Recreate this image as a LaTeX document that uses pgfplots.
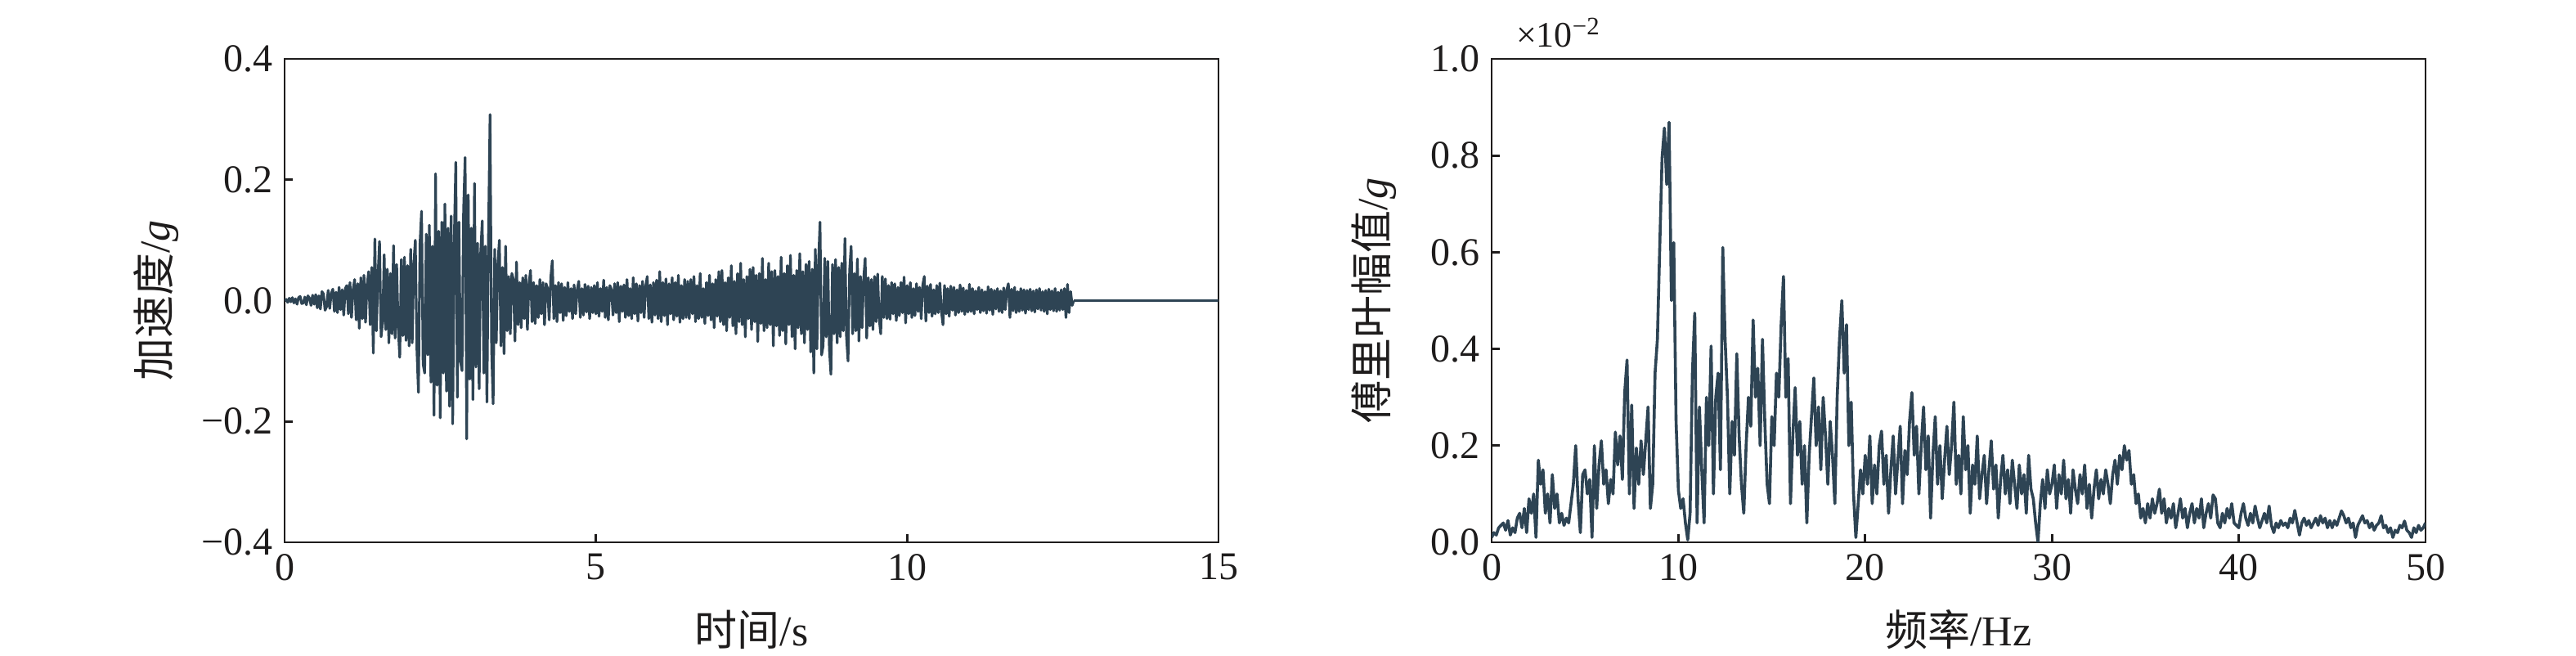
\documentclass[border=0pt]{standalone}
\usepackage{fontspec}
\setmainfont{Liberation Serif}
\newfontfamily\cjk{Noto Sans CJK SC}
\usepackage{pgfplots}
\pgfplotsset{compat=1.18}
\definecolor{sig}{RGB}{46,68,84}
\definecolor{ax}{RGB}{30,28,28}
\newcommand{\lab}{\fontsize{13}{15}\selectfont}
\pgfplotsset{myax/.style={
  scale only axis, width=285.5pt, height=147.75pt, anchor=south west,
  clip mode=individual,
  axis line style={ax, line width=0.7pt},
  tick style={ax, line width=0.7pt},
  tick align=inside, xtick pos=left, ytick pos=left,
  major tick length=2.5pt,
  tick label style={font=\fontsize{12}{14}\selectfont, text=ax},
  every axis y label/.style={at={(axis description cs:-0.1375,0.5)}, rotate=90, anchor=center, text=ax},
  every axis x label/.style={at={(axis description cs:0.5,-0.181)}, anchor=center, text=ax},
}}
\begin{document}
\begin{tikzpicture}
\useasboundingbox (0,0) rectangle (787.5pt,200.5pt);
\begin{axis}[myax, at={(87pt,34.75pt)},
  xmin=0, xmax=15, ymin=-0.4, ymax=0.4,
  xtick={0,5,10,15}, xticklabels={0,5,10,15},
  ytick={-0.4,-0.2,0,0.2,0.4}, yticklabels={−0.4,−0.2,0.0,0.2,0.4},
  xlabel={\lab{\cjk 时间}/s}, ylabel={\lab{\cjk 加速度}/\textit{g}}]
\addplot[sig, line width=0.8pt, line join=round] table[x expr=\coordindex*0.025, y index=0, row sep=\\, header=false] {
0\\0.002\\-0.003\\0.004\\-0.002\\0.005\\-0.004\\0.003\\-0.006\\0.005\\0.007\\-0.005\\-0.004\\0.006\\-0.007\\0.008\\0.004\\-0.008\\0.009\\-0.006\\
0.010\\-0.012\\0.008\\-0.014\\0.015\\0.011\\-0.016\\-0.010\\0.017\\-0.013\\0.012\\0.019\\-0.018\\0.014\\-0.020\\0.022\\-0.015\\0.018\\-0.024\\0.020\\
0.025\\-0.022\\0.030\\-0.028\\0.018\\0.035\\-0.032\\0.028\\-0.046\\0.038\\-0.030\\0.042\\-0.036\\0.025\\0.048\\-0.040\\0.055\\-0.087\\0.102\\-0.050\\
0.040\\0.098\\-0.060\\-0.035\\0.076\\-0.048\\0.052\\-0.070\\0.045\\-0.055\\0.091\\-0.062\\0.060\\-0.045\\-0.094\\0.068\\-0.058\\0.072\\-0.066\\0.058\\
-0.075\\0.085\\-0.070\\0.060\\0.100\\-0.080\\-0.152\\0.095\\0.148\\-0.105\\-0.120\\0.110\\-0.090\\0.125\\-0.135\\0.090\\-0.190\\0.210\\-0.140\\0.115\\
-0.194\\0.130\\-0.120\\0.160\\-0.150\\0.120\\-0.175\\0.140\\-0.204\\0.100\\0.229\\-0.160\\0.130\\-0.100\\-0.116\\0.150\\0.237\\-0.229\\0.175\\-0.130\\
0.120\\-0.164\\0.194\\-0.110\\0.095\\-0.146\\0.080\\0.132\\-0.120\\0.090\\-0.168\\0.110\\0.308\\-0.080\\-0.171\\0.085\\-0.070\\0.060\\0.100\\-0.075\\
0.055\\-0.088\\0.090\\-0.050\\0.040\\-0.055\\0.045\\0.035\\-0.067\\0.064\\-0.040\\0.030\\-0.045\\0.038\\-0.030\\0.042\\-0.048\\0.028\\0.050\\-0.035\\
0.030\\-0.038\\0.025\\-0.028\\0.035\\-0.022\\0.030\\-0.040\\0.028\\0.020\\-0.032\\0.038\\0.066\\-0.030\\0.025\\-0.035\\0.030\\-0.020\\0.028\\-0.033\\
0.022\\-0.025\\0.030\\-0.018\\0.020\\-0.030\\0.026\\-0.022\\0.018\\0.032\\-0.028\\0.020\\-0.024\\0.027\\-0.019\\0.024\\-0.030\\0.022\\-0.020\\0.025\\
-0.022\\0.030\\-0.026\\0.020\\-0.018\\0.034\\-0.028\\0.022\\-0.032\\0.025\\0.018\\-0.024\\0.028\\-0.020\\0.030\\-0.035\\0.024\\-0.018\\0.026\\-0.028\\
0.035\\-0.025\\0.020\\-0.030\\0.038\\-0.022\\0.028\\-0.034\\0.025\\-0.020\\0.032\\-0.028\\0.024\\0.040\\-0.030\\0.026\\-0.036\\0.030\\-0.024\\0.034\\
-0.030\\0.048\\-0.035\\0.030\\-0.025\\0.036\\-0.040\\0.028\\-0.022\\0.038\\-0.032\\0.030\\-0.026\\0.042\\-0.036\\0.025\\-0.030\\0.035\\-0.028\\0.032\\
-0.030\\0.035\\-0.022\\0.040\\-0.035\\0.025\\-0.030\\0.045\\-0.028\\0.020\\-0.038\\0.030\\-0.025\\0.042\\-0.032\\0.028\\-0.045\\0.035\\-0.026\\0.048\\
-0.035\\0.050\\-0.040\\0.030\\-0.050\\0.038\\-0.028\\0.058\\-0.042\\0.032\\-0.055\\0.045\\-0.035\\0.062\\-0.040\\0.035\\-0.060\\0.040\\-0.030\\0.052\\
-0.048\\0.055\\-0.035\\0.042\\-0.068\\0.045\\-0.038\\0.070\\-0.050\\0.035\\-0.045\\0.062\\-0.040\\0.048\\-0.075\\0.050\\-0.042\\0.040\\-0.058\\0.072\\
-0.050\\0.045\\-0.072\\0.058\\-0.040\\0.075\\-0.060\\0.042\\-0.080\\0.050\\-0.045\\0.078\\-0.055\\0.048\\-0.070\\0.060\\-0.048\\0.065\\-0.085\\0.052\\
-0.120\\0.085\\-0.080\\0.060\\0.130\\-0.090\\-0.075\\0.070\\-0.060\\0.065\\-0.080\\-0.122\\0.060\\-0.055\\0.068\\-0.070\\0.055\\-0.060\\0.062\\-0.050\\
0.103\\-0.060\\-0.100\\0.050\\0.090\\-0.055\\0.045\\-0.050\\0.069\\-0.067\\0.040\\-0.045\\0.035\\0.070\\-0.062\\0.038\\-0.042\\0.035\\-0.048\\0.040\\
-0.035\\0.044\\-0.030\\-0.055\\0.040\\-0.028\\0.036\\-0.030\\0.025\\-0.031\\0.030\\-0.022\\0.028\\-0.033\\0.022\\-0.025\\0.030\\-0.020\\0.039\\-0.037\\
0.025\\-0.022\\0.030\\-0.028\\0.020\\-0.025\\0.028\\-0.018\\0.022\\-0.030\\0.026\\0.040\\-0.034\\0.024\\-0.020\\0.027\\-0.026\\0.018\\-0.022\\0.025\\
-0.020\\0.029\\-0.018\\-0.040\\0.025\\-0.022\\0.020\\-0.026\\0.024\\-0.016\\0.022\\-0.024\\0.018\\-0.020\\0.026\\-0.018\\0.021\\-0.023\\0.017\\-0.019\\
0.027\\-0.018\\0.020\\-0.022\\0.016\\-0.015\\0.022\\-0.020\\0.018\\-0.017\\0.015\\-0.021\\0.023\\-0.016\\0.019\\-0.023\\0.017\\-0.014\\0.020\\-0.018\\
0.016\\-0.020\\0.021\\-0.015\\0.018\\0.028\\-0.028\\0.019\\-0.017\\0.022\\-0.020\\0.015\\-0.018\\0.020\\-0.016\\0.018\\-0.021\\0.017\\-0.015\\0.019\\
-0.017\\0.016\\-0.019\\0.018\\-0.014\\0.020\\-0.016\\0.015\\-0.018\\0.017\\-0.022\\0.019\\-0.015\\0.016\\-0.017\\0.020\\-0.018\\0.014\\-0.016\\0.018\\
-0.015\\0.020\\-0.028\\0.027\\-0.020\\0.015\\-0.008\\0\\
};
\addplot[sig, line width=0.8pt] coordinates {(12.675,0) (15,0)};
\end{axis}
\begin{axis}[myax, at={(456pt,34.75pt)},
  xmin=0, xmax=50, ymin=0, ymax=1,
  xtick={0,10,20,30,40,50}, xticklabels={0,10,20,30,40,50},
  ytick={0,0.2,0.4,0.6,0.8,1}, yticklabels={0.0,0.2,0.4,0.6,0.8,1.0},
  xlabel={\lab{\cjk 频率}/Hz}, ylabel={\lab{\cjk 傅里叶幅值}/\textit{g}},
  every axis y label/.append style={at={(axis description cs:-0.126,0.5)}}]
\addplot[sig, line width=0.9pt, line join=round] table[x expr=\coordindex*0.125, y index=0, row sep=\\, header=false] {
0.01\\0.02\\0.015\\0.03\\0.035\\0.04\\0.025\\0.045\\0.015\\0.03\\0.02\\0.05\\0.06\\0.03\\0.07\\0.02\\0.09\\0.06\\0.10\\0.01\\
0.17\\0.12\\0.15\\0.06\\0.10\\0.04\\0.14\\0.07\\0.10\\0.04\\0.06\\0.035\\0.05\\0.04\\0.08\\0.12\\0.20\\0.09\\0.02\\0.14\\
0.15\\0.10\\0.13\\0.01\\0.20\\0.07\\0.16\\0.21\\0.12\\0.15\\0.08\\0.13\\0.10\\0.228\\0.16\\0.22\\0.13\\0.31\\0.377\\0.10\\
0.284\\0.07\\0.195\\0.12\\0.21\\0.14\\0.21\\0.28\\0.07\\0.12\\0.35\\0.42\\0.61\\0.795\\0.857\\0.74\\0.869\\0.50\\0.62\\0.25\\
0.107\\0.07\\0.09\\0.04\\0.005\\0.06\\0.35\\0.474\\0.04\\0.28\\0.15\\0.04\\0.30\\0.20\\0.406\\0.10\\0.30\\0.35\\0.15\\0.61\\
0.42\\0.30\\0.10\\0.25\\0.18\\0.39\\0.22\\0.12\\0.06\\0.20\\0.30\\0.24\\0.46\\0.30\\0.36\\0.20\\0.42\\0.25\\0.12\\0.08\\
0.26\\0.20\\0.35\\0.30\\0.45\\0.55\\0.30\\0.38\\0.08\\0.22\\0.32\\0.18\\0.25\\0.12\\0.20\\0.04\\0.18\\0.26\\0.34\\0.20\\
0.28\\0.15\\0.30\\0.22\\0.12\\0.25\\0.18\\0.08\\0.30\\0.42\\0.50\\0.35\\0.45\\0.20\\0.29\\0.10\\0.01\\0.08\\0.15\\0.10\\
0.18\\0.12\\0.22\\0.08\\0.16\\0.10\\0.20\\0.23\\0.12\\0.18\\0.06\\0.15\\0.22\\0.10\\0.17\\0.24\\0.08\\0.19\\0.14\\0.25\\
0.31\\0.18\\0.24\\0.10\\0.20\\0.28\\0.15\\0.22\\0.05\\0.18\\0.26\\0.12\\0.20\\0.09\\0.17\\0.24\\0.14\\0.20\\0.29\\0.12\\
0.18\\0.10\\0.26\\0.15\\0.20\\0.06\\0.16\\0.12\\0.22\\0.09\\0.14\\0.18\\0.08\\0.15\\0.21\\0.11\\0.16\\0.05\\0.13\\0.18\\
0.10\\0.15\\0.08\\0.17\\0.12\\0.07\\0.16\\0.10\\0.14\\0.06\\0.18\\0.11\\0.09\\0.04\\0.0\\0.08\\0.13\\0.07\\0.15\\0.10\\
0.12\\0.16\\0.07\\0.14\\0.10\\0.17\\0.09\\0.13\\0.06\\0.15\\0.11\\0.08\\0.14\\0.10\\0.16\\0.07\\0.12\\0.05\\0.11\\0.15\\
0.09\\0.13\\0.10\\0.15\\0.12\\0.08\\0.14\\0.17\\0.12\\0.18\\0.15\\0.20\\0.17\\0.19\\0.12\\0.14\\0.08\\0.10\\0.05\\0.07\\
0.04\\0.08\\0.05\\0.09\\0.06\\0.08\\0.11\\0.06\\0.09\\0.04\\0.07\\0.05\\0.08\\0.03\\0.06\\0.09\\0.05\\0.07\\0.03\\0.06\\
0.08\\0.04\\0.07\\0.05\\0.09\\0.03\\0.06\\0.08\\0.05\\0.098\\0.09\\0.04\\0.03\\0.06\\0.04\\0.07\\0.05\\0.08\\0.04\\0.035\\
0.03\\0.06\\0.08\\0.05\\0.035\\0.06\\0.04\\0.075\\0.05\\0.03\\0.045\\0.06\\0.04\\0.075\\0.035\\0.02\\0.04\\0.03\\0.045\\0.035\\
0.04\\0.03\\0.05\\0.04\\0.066\\0.04\\0.015\\0.04\\0.05\\0.035\\0.045\\0.03\\0.04\\0.05\\0.035\\0.055\\0.04\\0.05\\0.03\\0.045\\
0.03\\0.045\\0.035\\0.05\\0.065\\0.055\\0.04\\0.05\\0.03\\0.04\\0.01\\0.035\\0.045\\0.055\\0.04\\0.045\\0.03\\0.04\\0.025\\0.035\\
0.04\\0.055\\0.03\\0.035\\0.02\\0.03\\0.01\\0.025\\0.02\\0.035\\0.03\\0.044\\0.025\\0.02\\0.01\\0.03\\0.02\\0.035\\0.025\\0.03\\
0.04\\
};
\node[anchor=base west, font=\fontsize{11}{12}\selectfont, text=ax, xshift=4pt, yshift=3.5pt] at (rel axis cs:0,1) {×10\textsuperscript{−2}};
\end{axis}
\end{tikzpicture}
\end{document}
